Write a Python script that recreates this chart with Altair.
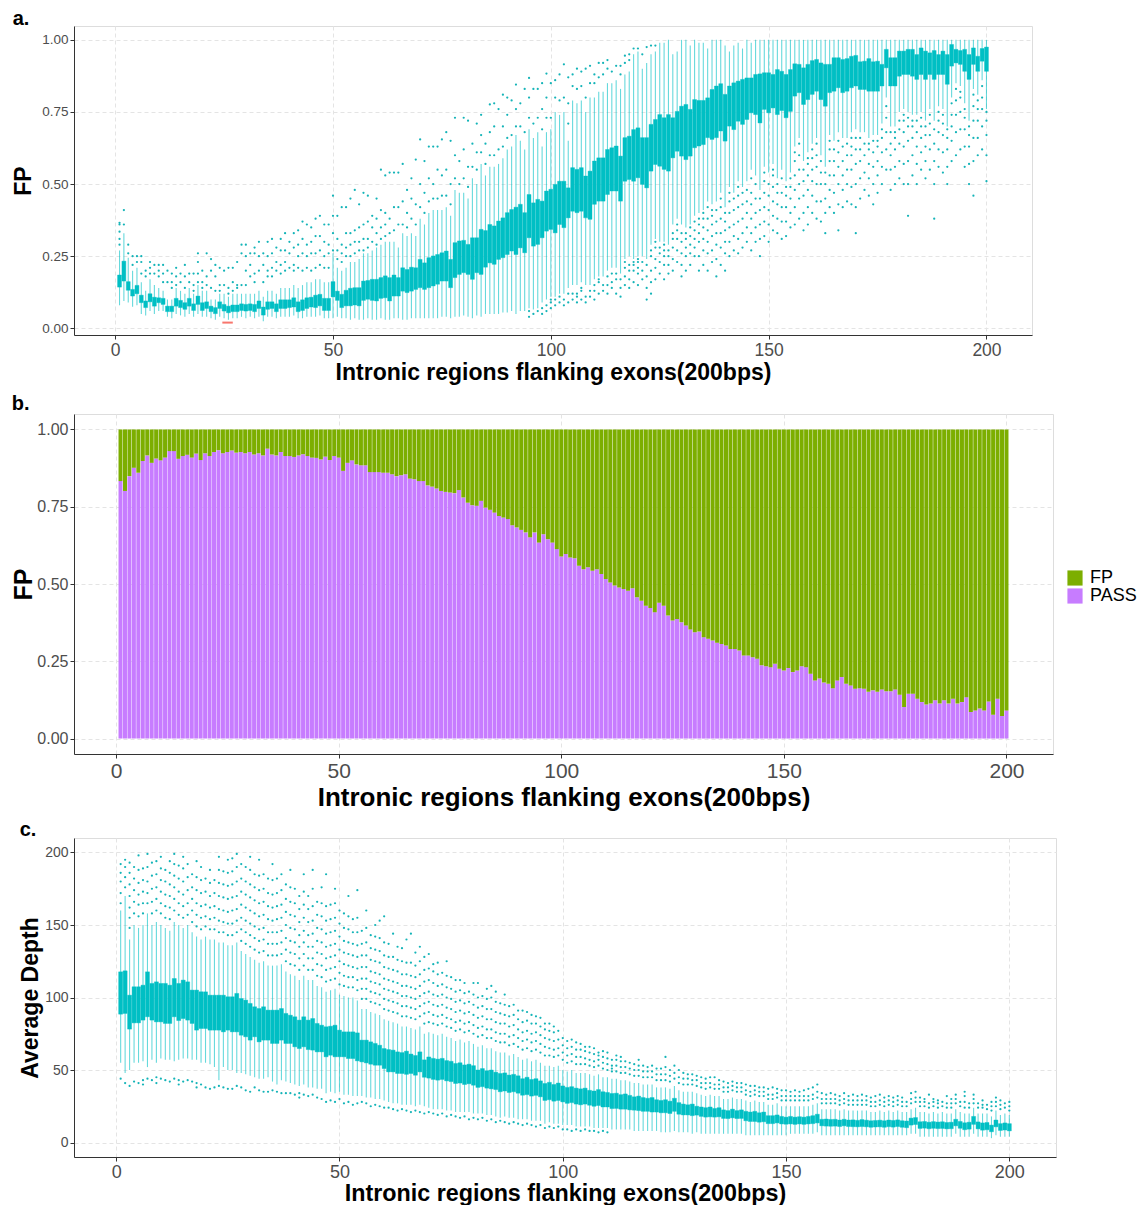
import altair as alt
import pandas as pd

FONT = "Liberation Sans"
TEAL = "#00BFC4"
GREEN = "#7CAE00"
PURPLE = "#C77CFF"
RED = "#F8766D"

POS = list(range(1, 201))
X_TICKS = [0, 50, 100, 150, 200]
X_TITLE = "Intronic regions flanking exons(200bps)"

# ---------------- panel a : FP fraction boxplots ----------------
A_Q3 = [
    0.185, 0.233, 0.162, 0.135, 0.149, 0.115, 0.095, 0.120, 0.108, 0.106,
    0.104, 0.077, 0.077, 0.104, 0.097, 0.089, 0.104, 0.085, 0.112, 0.089,
    0.092, 0.077, 0.072, 0.092, 0.083, 0.077, 0.081, 0.081, 0.085, 0.083,
    0.085, 0.083, 0.095, 0.074, 0.092, 0.092, 0.085, 0.099, 0.099, 0.099,
    0.106, 0.092, 0.099, 0.106, 0.108, 0.115, 0.118, 0.104, 0.104, 0.162,
    0.129, 0.118, 0.132, 0.139, 0.141, 0.141, 0.164, 0.166, 0.170, 0.170,
    0.176, 0.182, 0.176, 0.185, 0.176, 0.210, 0.204, 0.212, 0.210, 0.239,
    0.227, 0.245, 0.251, 0.256, 0.262, 0.268, 0.239, 0.297, 0.303, 0.305,
    0.291, 0.314, 0.314, 0.343, 0.339, 0.360, 0.355, 0.372, 0.383, 0.401,
    0.412, 0.420, 0.430, 0.401, 0.464, 0.435, 0.447, 0.441, 0.476, 0.482,
    0.499, 0.510, 0.510, 0.487, 0.557, 0.551, 0.557, 0.528, 0.545, 0.580,
    0.591, 0.591, 0.620, 0.626, 0.632, 0.597, 0.661, 0.666, 0.689, 0.695,
    0.661, 0.661, 0.707, 0.724, 0.741, 0.730, 0.741, 0.730, 0.752, 0.770,
    0.776, 0.759, 0.793, 0.790, 0.790, 0.799, 0.828, 0.840, 0.848, 0.811,
    0.840, 0.851, 0.857, 0.863, 0.868, 0.868, 0.880, 0.882, 0.886, 0.886,
    0.880, 0.897, 0.891, 0.880, 0.897, 0.917, 0.915, 0.903, 0.915, 0.928,
    0.932, 0.920, 0.915, 0.915, 0.938, 0.938, 0.932, 0.935, 0.943, 0.946,
    0.924, 0.926, 0.935, 0.924, 0.926, 0.915, 0.967, 0.938, 0.938, 0.961,
    0.961, 0.967, 0.967, 0.949, 0.972, 0.961, 0.955, 0.963, 0.949, 0.961,
    0.949, 0.984, 0.967, 0.963, 0.967, 0.949, 0.972, 0.943, 0.970, 0.975,
]
A_Q1 = [
    0.143, 0.164, 0.132, 0.112, 0.120, 0.089, 0.072, 0.092, 0.077, 0.089,
    0.083, 0.058, 0.058, 0.077, 0.072, 0.066, 0.077, 0.062, 0.083, 0.062,
    0.069, 0.058, 0.051, 0.069, 0.060, 0.054, 0.058, 0.058, 0.062, 0.060,
    0.062, 0.058, 0.069, 0.046, 0.066, 0.069, 0.058, 0.069, 0.069, 0.072,
    0.074, 0.058, 0.062, 0.069, 0.074, 0.072, 0.078, 0.062, 0.062, 0.109,
    0.097, 0.072, 0.078, 0.078, 0.081, 0.078, 0.097, 0.101, 0.097, 0.095,
    0.104, 0.106, 0.095, 0.112, 0.112, 0.129, 0.124, 0.129, 0.135, 0.141,
    0.135, 0.141, 0.147, 0.153, 0.164, 0.164, 0.141, 0.176, 0.187, 0.193,
    0.187, 0.170, 0.193, 0.187, 0.212, 0.227, 0.222, 0.239, 0.245, 0.256,
    0.268, 0.256, 0.279, 0.262, 0.314, 0.285, 0.291, 0.314, 0.337, 0.343,
    0.331, 0.360, 0.349, 0.383, 0.406, 0.401, 0.406, 0.383, 0.378, 0.430,
    0.441, 0.441, 0.464, 0.476, 0.476, 0.441, 0.510, 0.516, 0.510, 0.522,
    0.499, 0.487, 0.545, 0.568, 0.562, 0.551, 0.545, 0.591, 0.614, 0.597,
    0.585, 0.597, 0.626, 0.632, 0.637, 0.661, 0.655, 0.661, 0.684, 0.649,
    0.701, 0.689, 0.718, 0.707, 0.724, 0.747, 0.741, 0.712, 0.759, 0.747,
    0.764, 0.741, 0.755, 0.730, 0.752, 0.805, 0.817, 0.776, 0.793, 0.811,
    0.822, 0.793, 0.770, 0.817, 0.822, 0.834, 0.817, 0.822, 0.834, 0.840,
    0.828, 0.828, 0.822, 0.822, 0.822, 0.840, 0.903, 0.840, 0.840, 0.874,
    0.880, 0.880, 0.874, 0.863, 0.880, 0.863, 0.880, 0.863, 0.880, 0.880,
    0.846, 0.909, 0.920, 0.915, 0.891, 0.863, 0.915, 0.891, 0.926, 0.891,
]
A_HI = [
    0.27, 0.33, 0.245, 0.20, 0.21, 0.16, 0.13, 0.17, 0.15, 0.14,
    0.13, 0.10, 0.10, 0.14, 0.13, 0.12, 0.14, 0.12, 0.15, 0.13,
    0.13, 0.10, 0.10, 0.12, 0.12, 0.11, 0.12, 0.12, 0.12, 0.12,
    0.12, 0.12, 0.13, 0.11, 0.13, 0.13, 0.12, 0.14, 0.14, 0.14,
    0.15, 0.14, 0.15, 0.16, 0.16, 0.17, 0.17, 0.16, 0.16, 0.26,
    0.21, 0.20, 0.21, 0.23, 0.23, 0.24, 0.26, 0.26, 0.27, 0.28,
    0.29, 0.30, 0.30, 0.30, 0.28, 0.33, 0.32, 0.33, 0.32, 0.38,
    0.36, 0.40, 0.41, 0.41, 0.41, 0.42, 0.39, 0.48, 0.47, 0.47,
    0.45, 0.52, 0.50, 0.57, 0.53, 0.56, 0.56, 0.57, 0.59, 0.62,
    0.63, 0.67, 0.65, 0.62, 0.69, 0.66, 0.68, 0.63, 0.68, 0.69,
    0.75, 0.74, 0.75, 0.65, 0.79, 0.78, 0.79, 0.75, 0.80, 0.80,
    0.82, 0.82, 0.85, 0.85, 0.86, 0.83, 0.88, 0.89, 0.95, 0.96,
    0.90, 0.92, 0.95, 0.96, 0.99, 0.99, 1.00, 0.95, 0.96, 1.00,
    1.00, 0.98, 1.00, 0.99, 0.99, 0.97, 1.00, 1.00, 1.00, 0.98,
    0.96, 0.98, 0.99, 0.97, 1.00, 0.99, 1.00, 1.00, 1.00, 1.00,
    1.00, 1.00, 1.00, 1.00, 1.00, 1.00, 1.00, 1.00, 1.00, 1.00,
    1.00, 1.00, 1.00, 1.00, 1.00, 1.00, 1.00, 1.00, 1.00, 1.00,
    1.00, 1.00, 1.00, 1.00, 1.00, 1.00, 1.00, 1.00, 1.00, 1.00,
    1.00, 1.00, 1.00, 1.00, 1.00, 1.00, 1.00, 1.00, 1.00, 1.00,
    1.00, 1.00, 1.00, 1.00, 1.00, 1.00, 1.00, 1.00, 1.00, 1.00,
]
A_LO = [
    0.08, 0.095, 0.09, 0.075, 0.08, 0.05, 0.045, 0.06, 0.05, 0.06,
    0.06, 0.04, 0.035, 0.05, 0.045, 0.04, 0.05, 0.04, 0.05, 0.04,
    0.04, 0.035, 0.03, 0.04, 0.035, 0.03, 0.035, 0.035, 0.04, 0.035,
    0.04, 0.035, 0.04, 0.025, 0.04, 0.04, 0.035, 0.04, 0.04, 0.04,
    0.045, 0.035, 0.035, 0.04, 0.04, 0.04, 0.045, 0.035, 0.035, 0.035,
    0.04, 0.035, 0.035, 0.03, 0.035, 0.03, 0.03, 0.035, 0.03, 0.03,
    0.035, 0.03, 0.03, 0.035, 0.035, 0.03, 0.03, 0.035, 0.035, 0.035,
    0.035, 0.035, 0.035, 0.035, 0.04, 0.04, 0.035, 0.04, 0.04, 0.045,
    0.04, 0.035, 0.045, 0.04, 0.05, 0.05, 0.05, 0.05, 0.055, 0.055,
    0.06, 0.05, 0.06, 0.06, 0.07, 0.065, 0.07, 0.09, 0.10, 0.11,
    0.11, 0.12, 0.12, 0.14, 0.15, 0.15, 0.16, 0.15, 0.15, 0.17,
    0.18, 0.18, 0.20, 0.21, 0.21, 0.19, 0.24, 0.25, 0.24, 0.25,
    0.25, 0.24, 0.29, 0.31, 0.30, 0.30, 0.29, 0.36, 0.38, 0.36,
    0.35, 0.36, 0.39, 0.40, 0.41, 0.44, 0.43, 0.44, 0.47, 0.42,
    0.49, 0.47, 0.51, 0.49, 0.51, 0.55, 0.53, 0.48, 0.56, 0.54,
    0.57, 0.52, 0.55, 0.51, 0.54, 0.63, 0.66, 0.58, 0.61, 0.64,
    0.66, 0.60, 0.56, 0.67, 0.65, 0.68, 0.66, 0.66, 0.68, 0.69,
    0.68, 0.68, 0.66, 0.67, 0.67, 0.71, 0.80, 0.70, 0.70, 0.75,
    0.76, 0.75, 0.74, 0.74, 0.75, 0.72, 0.76, 0.72, 0.77, 0.76,
    0.70, 0.80, 0.85, 0.84, 0.78, 0.72, 0.83, 0.81, 0.86, 0.76,
]
A_OUT_HI = {
    1: [0.29, 0.31, 0.335, 0.36, 0.366], 2: [0.36, 0.41], 3: [0.26, 0.29], 4: [0.22, 0.25],
    5: [0.23, 0.25], 6: [0.19, 0.23, 0.25], 7: [0.18, 0.20], 8: [0.19, 0.21, 0.23],
    9: [0.19, 0.22], 10: [0.18, 0.20, 0.22], 11: [0.16, 0.19, 0.22], 12: [0.16, 0.20],
    13: [0.14, 0.16, 0.19], 14: [0.15, 0.18, 0.21], 15: [0.16, 0.19], 16: [0.14, 0.18, 0.22],
    17: [0.16, 0.19], 18: [0.13, 0.15, 0.19], 19: [0.16, 0.19, 0.23, 0.26], 20: [0.14, 0.16, 0.20],
    21: [0.15, 0.18, 0.26], 22: [0.14, 0.20, 0.24], 23: [0.13, 0.18, 0.22], 24: [0.13, 0.15, 0.21],
    25: [0.15, 0.20], 26: [0.12, 0.14, 0.21], 27: [0.13, 0.16, 0.21], 28: [0.14, 0.15, 0.23],
    29: [0.15, 0.26, 0.29], 30: [0.15, 0.20, 0.25, 0.29], 31: [0.18, 0.22, 0.26],
    32: [0.16, 0.19, 0.26, 0.28], 33: [0.20, 0.25, 0.30], 34: [0.16, 0.22, 0.26],
    35: [0.18, 0.20, 0.25, 0.30], 36: [0.18, 0.21, 0.26, 0.31], 37: [0.20, 0.23, 0.28],
    38: [0.19, 0.22, 0.27, 0.31], 39: [0.20, 0.23, 0.27, 0.33], 40: [0.21, 0.26, 0.30],
    41: [0.20, 0.22, 0.28, 0.33], 42: [0.21, 0.25, 0.29, 0.34], 43: [0.20, 0.26, 0.31, 0.37],
    44: [0.21, 0.25, 0.29, 0.36], 45: [0.20, 0.26, 0.30, 0.35], 46: [0.21, 0.26, 0.32, 0.38],
    47: [0.22, 0.27, 0.32, 0.39], 48: [0.21, 0.25, 0.30, 0.36], 49: [0.21, 0.26, 0.29, 0.36],
    50: [0.27, 0.33, 0.39, 0.46], 51: [0.24, 0.27, 0.31, 0.39], 52: [0.23, 0.26, 0.29, 0.42],
    53: [0.25, 0.28, 0.33, 0.42], 54: [0.25, 0.29, 0.33, 0.45], 55: [0.26, 0.30, 0.34, 0.48],
    56: [0.27, 0.30, 0.35, 0.43], 57: [0.27, 0.31, 0.36, 0.47], 58: [0.28, 0.31, 0.37, 0.46],
    59: [0.30, 0.35, 0.39], 60: [0.29, 0.33, 0.38, 0.45], 61: [0.31, 0.35, 0.41, 0.55],
    62: [0.32, 0.36, 0.40, 0.53], 63: [0.33, 0.38, 0.54], 64: [0.34, 0.42, 0.54],
    65: [0.36, 0.42, 0.54], 66: [0.36, 0.44, 0.57], 67: [0.35, 0.40, 0.48], 68: [0.38, 0.45, 0.52],
    69: [0.36, 0.43, 0.585], 70: [0.42, 0.50, 0.655], 71: [0.40, 0.47, 0.58], 72: [0.44, 0.52, 0.63],
    73: [0.45, 0.50, 0.63], 74: [0.45, 0.55, 0.63], 75: [0.46, 0.53, 0.655], 76: [0.46, 0.55, 0.68],
    77: [0.43, 0.50, 0.65], 78: [0.52, 0.60, 0.73], 79: [0.50, 0.58], 80: [0.52, 0.62, 0.73],
    81: [0.49, 0.56, 0.72], 82: [0.56, 0.64], 83: [0.55, 0.61, 0.71], 84: [0.61, 0.67, 0.74],
    85: [0.57, 0.64], 86: [0.60, 0.68, 0.776], 87: [0.60, 0.70, 0.78], 88: [0.62, 0.76],
    89: [0.63, 0.70, 0.81], 90: [0.66, 0.74, 0.80], 91: [0.67, 0.79], 92: [0.70, 0.76, 0.845],
    93: [0.70, 0.78], 94: [0.68, 0.83], 95: [0.73, 0.80, 0.868], 96: [0.71, 0.83],
    97: [0.73, 0.83], 98: [0.69, 0.76, 0.85], 99: [0.73, 0.80, 0.883], 100: [0.73, 0.85],
    101: [0.80, 0.86], 102: [0.79, 0.88], 103: [0.80, 0.915], 104: [0.71, 0.78, 0.87],
    105: [0.84, 0.88], 106: [0.83, 0.90], 107: [0.84, 0.89], 108: [0.80, 0.90],
    109: [0.85, 0.91], 110: [0.85, 0.88], 111: [0.87, 0.92], 112: [0.88, 0.92],
    113: [0.90, 0.93], 114: [0.89], 115: [0.91], 116: [0.88, 0.91], 117: [0.92, 0.945],
    118: [0.93, 0.95], 119: [0.97], 120: [0.97], 121: [0.95], 122: [0.975], 123: [0.98], 124: [0.98],
}
A_OUT_LO = {
    95: [0.04, 0.06], 96: [0.05], 97: [0.06], 98: [0.05, 0.07], 99: [0.06, 0.08],
    100: [0.07, 0.09, 0.10], 101: [0.08, 0.10], 102: [0.09, 0.11], 103: [0.08, 0.10],
    104: [0.09, 0.12], 105: [0.10, 0.12], 106: [0.09, 0.11, 0.12], 107: [0.10, 0.13, 0.14],
    108: [0.09, 0.11], 109: [0.11, 0.13], 110: [0.10, 0.13, 0.15], 111: [0.12, 0.16, 0.17],
    112: [0.13, 0.15], 113: [0.12, 0.15, 0.18], 114: [0.14, 0.16, 0.19], 115: [0.12, 0.17, 0.19],
    116: [0.11, 0.14, 0.17], 117: [0.15, 0.18, 0.21, 0.23], 118: [0.14, 0.17, 0.20, 0.22],
    119: [0.16, 0.20, 0.22, 0.23], 120: [0.15, 0.19, 0.21, 0.23, 0.24], 121: [0.17, 0.20, 0.23],
    122: [0.10, 0.14, 0.18, 0.22], 123: [0.12, 0.16, 0.20, 0.25, 0.27],
    124: [0.17, 0.21, 0.24, 0.28, 0.30], 125: [0.19, 0.23, 0.26, 0.28],
    126: [0.17, 0.22, 0.25, 0.27, 0.29], 127: [0.19, 0.22, 0.25, 0.27],
    128: [0.20, 0.24, 0.28, 0.31, 0.33], 129: [0.23, 0.27, 0.31, 0.34, 0.36],
    130: [0.18, 0.22, 0.26, 0.30, 0.33], 131: [0.20, 0.25, 0.28, 0.31, 0.33],
    132: [0.22, 0.26, 0.29, 0.32, 0.35], 133: [0.25, 0.28, 0.31, 0.34, 0.37],
    134: [0.20, 0.25, 0.30, 0.33, 0.36, 0.38], 135: [0.22, 0.27, 0.31, 0.35, 0.38, 0.40],
    136: [0.20, 0.26, 0.30, 0.34, 0.38, 0.42], 137: [0.23, 0.27, 0.32, 0.36, 0.39, 0.41],
    138: [0.18, 0.24, 0.29, 0.33, 0.37, 0.41], 139: [0.22, 0.28, 0.33, 0.38, 0.42, 0.45],
    140: [0.20, 0.26, 0.30, 0.34, 0.37, 0.40], 141: [0.25, 0.30, 0.35, 0.40, 0.44, 0.47],
    142: [0.27, 0.32, 0.36, 0.41, 0.45], 143: [0.26, 0.31, 0.37, 0.42, 0.46, 0.49],
    144: [0.28, 0.33, 0.38, 0.43, 0.47], 145: [0.30, 0.35, 0.40, 0.44, 0.48],
    146: [0.27, 0.33, 0.38, 0.43, 0.47, 0.52], 147: [0.30, 0.35, 0.40, 0.45, 0.50],
    148: [0.25, 0.31, 0.36, 0.41, 0.45], 149: [0.32, 0.37, 0.42, 0.47, 0.51, 0.54],
    150: [0.30, 0.36, 0.41, 0.46, 0.50], 151: [0.34, 0.39, 0.44, 0.49, 0.53, 0.55],
    152: [0.33, 0.38, 0.43, 0.47, 0.50], 153: [0.31, 0.37, 0.42, 0.47, 0.52],
    154: [0.32, 0.37, 0.42, 0.46, 0.49], 155: [0.35, 0.40, 0.45, 0.49, 0.52],
    156: [0.36, 0.42, 0.48, 0.53, 0.58, 0.61], 157: [0.38, 0.45, 0.50, 0.55, 0.60, 0.64],
    158: [0.34, 0.40, 0.46, 0.51, 0.55], 159: [0.36, 0.42, 0.48, 0.53, 0.57, 0.59],
    160: [0.40, 0.46, 0.51, 0.55, 0.59, 0.62], 161: [0.38, 0.44, 0.50, 0.56, 0.60, 0.64],
    162: [0.37, 0.44, 0.50, 0.54, 0.58], 163: [0.33, 0.40, 0.45, 0.50, 0.54],
    164: [0.42, 0.48, 0.53, 0.58, 0.62, 0.65], 165: [0.40, 0.47, 0.53, 0.58, 0.62],
    166: [0.34, 0.43, 0.50, 0.56, 0.61, 0.65], 167: [0.42, 0.48, 0.53, 0.58, 0.63],
    168: [0.44, 0.50, 0.55, 0.60, 0.64], 169: [0.43, 0.49, 0.55, 0.60, 0.63, 0.66],
    170: [0.33, 0.42, 0.50, 0.57, 0.62, 0.66], 171: [0.45, 0.52, 0.58, 0.62, 0.66],
    172: [0.48, 0.54, 0.60, 0.64], 173: [0.46, 0.52, 0.57, 0.62, 0.64],
    174: [0.43, 0.50, 0.56, 0.61, 0.65], 175: [0.47, 0.53, 0.58, 0.63, 0.65],
    176: [0.50, 0.56, 0.61, 0.66, 0.69], 177: [0.55, 0.62, 0.68, 0.73, 0.77],
    178: [0.48, 0.55, 0.60, 0.64, 0.68], 179: [0.50, 0.56, 0.62, 0.66, 0.68],
    180: [0.52, 0.58, 0.64, 0.69, 0.72], 181: [0.50, 0.57, 0.63, 0.68, 0.72, 0.74],
    182: [0.39, 0.50, 0.58, 0.65, 0.70, 0.73], 183: [0.53, 0.60, 0.66, 0.70, 0.72],
    184: [0.50, 0.57, 0.63, 0.68, 0.72], 185: [0.55, 0.61, 0.66, 0.70, 0.73],
    186: [0.52, 0.58, 0.63, 0.67, 0.70], 187: [0.55, 0.62, 0.67, 0.71, 0.74],
    188: [0.38, 0.50, 0.58, 0.64, 0.69], 189: [0.56, 0.62, 0.68, 0.72, 0.75],
    190: [0.54, 0.61, 0.67, 0.71, 0.74], 191: [0.50, 0.56, 0.62, 0.66, 0.69],
    192: [0.58, 0.65, 0.70, 0.74, 0.78], 193: [0.60, 0.68, 0.74, 0.79, 0.83],
    194: [0.62, 0.69, 0.75, 0.80, 0.82], 195: [0.56, 0.63, 0.69, 0.73, 0.76],
    196: [0.50, 0.57, 0.63, 0.67, 0.70], 197: [0.46, 0.58, 0.66, 0.72, 0.77, 0.81],
    198: [0.60, 0.66, 0.72, 0.76, 0.79], 199: [0.62, 0.70, 0.76, 0.80, 0.84],
    200: [0.51, 0.60, 0.67, 0.72, 0.75],
}
A_RED_X = [24.6, 27.0]
A_RED_Y = 0.02

# ---------------- panel b : PASS share per position ----------------
B_PASS = [
    0.833, 0.801, 0.849, 0.876, 0.860, 0.898, 0.916, 0.892, 0.906, 0.900,
    0.909, 0.930, 0.930, 0.905, 0.914, 0.918, 0.909, 0.922, 0.901, 0.923,
    0.914, 0.927, 0.933, 0.923, 0.927, 0.932, 0.925, 0.927, 0.923, 0.927,
    0.919, 0.923, 0.916, 0.938, 0.919, 0.916, 0.927, 0.914, 0.914, 0.911,
    0.916, 0.920, 0.914, 0.909, 0.908, 0.903, 0.912, 0.901, 0.914, 0.909,
    0.866, 0.892, 0.900, 0.887, 0.884, 0.884, 0.862, 0.862, 0.862, 0.860,
    0.860, 0.855, 0.849, 0.852, 0.855, 0.841, 0.839, 0.833, 0.833, 0.819,
    0.815, 0.809, 0.801, 0.798, 0.796, 0.794, 0.804, 0.780, 0.763, 0.755,
    0.753, 0.769, 0.747, 0.740, 0.731, 0.720, 0.715, 0.710, 0.690, 0.683,
    0.675, 0.667, 0.651, 0.667, 0.634, 0.661, 0.645, 0.634, 0.613, 0.589,
    0.597, 0.586, 0.583, 0.559, 0.548, 0.554, 0.543, 0.548, 0.532, 0.516,
    0.505, 0.495, 0.489, 0.484, 0.478, 0.486, 0.457, 0.446, 0.430, 0.422,
    0.409, 0.439, 0.430, 0.398, 0.382, 0.387, 0.376, 0.366, 0.353, 0.344,
    0.346, 0.328, 0.323, 0.317, 0.310, 0.306, 0.301, 0.290, 0.290, 0.285,
    0.269, 0.269, 0.263, 0.258, 0.237, 0.234, 0.231, 0.242, 0.226, 0.220,
    0.228, 0.215, 0.220, 0.234, 0.231, 0.210, 0.188, 0.194, 0.181, 0.177,
    0.163, 0.188, 0.199, 0.177, 0.172, 0.161, 0.163, 0.161, 0.151, 0.156,
    0.151, 0.159, 0.153, 0.153, 0.159, 0.142, 0.102, 0.145, 0.145, 0.129,
    0.118, 0.110, 0.113, 0.124, 0.113, 0.124, 0.113, 0.129, 0.113, 0.118,
    0.134, 0.086, 0.091, 0.097, 0.091, 0.120, 0.077, 0.129, 0.073, 0.091,
]
B_CATS = ["FP", "PASS"]

# ---------------- panel c : average depth boxplots ----------------
C_Q3 = [
    117.7, 118.4, 101.6, 107.4, 107.4, 108.5, 117.7, 109.7, 110.8, 109.7,
    109.7, 108.5, 113.1, 109.7, 112.0, 110.8, 105.1, 105.1, 103.9, 103.9,
    101.6, 101.6, 101.6, 101.6, 100.5, 100.5, 102.8, 99.3, 98.2, 95.9,
    93.6, 92.4, 93.6, 91.3, 91.3, 91.3, 92.4, 89.0, 87.8, 86.7,
    84.4, 86.7, 84.4, 85.5, 82.1, 80.9, 79.8, 80.2, 80.9, 77.5,
    76.3, 76.3, 76.3, 75.6, 70.6, 70.6, 69.4, 68.3, 67.1, 64.8,
    64.1, 63.7, 62.5, 62.0, 63.0, 61.0, 60.0, 62.5, 57.0, 59.0,
    58.0, 57.5, 58.0, 56.5, 56.0, 54.5, 55.0, 53.5, 54.0, 53.0,
    50.0, 51.0, 49.5, 50.0, 48.5, 47.6, 48.0, 46.5, 47.0, 46.0,
    44.0, 45.0, 43.5, 44.0, 42.5, 40.7, 41.5, 40.0, 41.0, 39.0,
    38.0, 38.5, 37.5, 37.0, 37.5, 36.0, 35.5, 36.5, 35.0, 34.5,
    33.8, 34.0, 33.0, 33.5, 32.5, 31.5, 32.0, 31.0, 30.5, 31.0,
    29.5, 29.0, 29.5, 28.5, 30.5, 27.5, 26.5, 26.0, 26.5, 25.0,
    24.5, 24.0, 24.5, 23.5, 24.0, 22.5, 22.0, 23.0, 22.0, 22.5,
    21.5, 21.0, 21.5, 20.5, 21.0, 18.5, 18.5, 19.0, 18.0, 17.5,
    18.0, 17.5, 17.8, 17.5, 18.0, 18.5, 19.5, 16.0, 16.2, 15.9,
    16.0, 15.5, 16.0, 15.5, 15.6, 15.3, 15.8, 15.4, 15.0, 15.2,
    15.4, 15.0, 15.5, 15.2, 15.6, 15.0, 14.8, 16.8, 17.2, 14.3,
    14.5, 14.0, 14.4, 14.1, 14.3, 13.8, 14.0, 16.0, 14.5, 13.6,
    14.0, 18.0, 14.2, 13.5, 13.8, 12.0, 15.5, 13.0, 13.5, 13.0,
]
C_Q1 = [
    88.5, 89.0, 78.2, 82.5, 82.5, 84.4, 86.7, 84.4, 83.2, 83.2,
    82.1, 82.1, 86.7, 84.1, 85.5, 84.4, 82.1, 77.5, 78.6, 78.6,
    77.5, 77.5, 77.5, 76.3, 77.5, 76.3, 76.3, 74.0, 72.9, 70.6,
    72.9, 69.4, 70.6, 70.6, 68.3, 68.3, 70.6, 68.3, 68.3, 66.0,
    64.8, 66.0, 64.1, 63.7, 62.5, 62.5, 59.1, 60.2, 59.1, 59.1,
    59.1, 57.9, 57.9, 56.3, 55.6, 54.9, 54.0, 53.3, 53.3, 51.0,
    48.7, 48.7, 47.6, 47.6, 47.0, 47.6, 46.4, 48.7, 45.0, 44.4,
    43.5, 43.0, 43.5, 42.5, 42.0, 40.7, 41.0, 40.0, 40.5, 39.5,
    38.0, 38.5, 37.5, 37.0, 36.5, 35.0, 35.5, 34.5, 35.0, 34.0,
    32.6, 33.0, 32.0, 32.5, 31.5, 29.0, 29.5, 28.5, 29.0, 28.0,
    27.0, 27.5, 26.5, 26.0, 26.5, 25.7, 25.0, 25.5, 24.5, 24.5,
    23.4, 23.5, 23.0, 23.0, 22.5, 22.3, 22.0, 21.5, 21.5, 21.0,
    21.0, 20.5, 20.5, 20.0, 21.5, 19.5, 19.0, 19.0, 18.5, 18.9,
    18.0, 17.5, 17.7, 17.5, 17.7, 16.6, 16.5, 17.0, 16.5, 16.6,
    15.0, 14.5, 14.5, 14.0, 14.3, 13.0, 13.0, 13.5, 12.8, 12.6,
    12.8, 12.5, 12.8, 12.5, 12.8, 13.0, 13.5, 11.5, 11.3, 11.2,
    11.3, 11.0, 11.5, 11.0, 10.9, 10.8, 11.0, 10.8, 10.5, 10.7,
    10.8, 10.5, 10.9, 10.6, 11.0, 10.5, 10.2, 12.0, 12.4, 9.7,
    9.9, 9.5, 9.8, 9.6, 9.7, 9.4, 9.5, 11.5, 9.8, 8.8,
    9.2, 12.5, 9.4, 8.5, 8.8, 7.4, 10.8, 8.3, 8.6, 8.0,
]
C_HI = [
    160, 170, 140, 150, 148, 150, 158, 150, 152, 150,
    148, 146, 152, 150, 148, 150, 145, 142, 140, 142,
    140, 140, 138, 138, 136, 136, 138, 132, 130, 128,
    126, 124, 125, 122, 122, 122, 123, 118, 116, 115,
    112, 115, 112, 112, 108, 107, 104, 105, 106, 102,
    101, 100, 100, 98, 92, 92, 90, 89, 88, 85,
    84, 83, 82, 80, 80, 79, 78, 80, 75, 76,
    75, 74, 75, 73, 72, 70, 71, 69, 70, 68,
    66, 67, 65, 65, 63, 62, 62, 60, 61, 59,
    57, 58, 56, 57, 55, 53, 53, 52, 53, 50,
    49, 50, 48, 48, 48, 47, 46, 47, 45, 45,
    44, 44, 43, 43, 42, 41, 41, 40, 40, 40,
    38, 38, 38, 37, 39, 36, 35, 35, 35, 34,
    33, 32, 33, 32, 32, 30, 30, 31, 30, 30,
    29, 28, 29, 28, 28, 26, 26, 27, 25, 25,
    25, 25, 25, 25, 25, 26, 27, 23, 23, 23,
    23, 22, 23, 22, 22, 22, 22, 22, 21, 21,
    22, 21, 22, 21, 22, 21, 21, 23, 24, 21,
    21, 20, 21, 20, 21, 20, 20, 23, 21, 20,
    20, 24, 20, 20, 20, 18, 22, 19, 20, 19,
]
C_LO = [
    55, 48, 50, 55, 55, 56, 52, 57, 55, 58,
    57, 57, 56, 57, 58, 58, 57, 57, 55, 55,
    54, 52, 43, 52, 50, 50, 48, 48, 47, 46,
    45, 44, 44, 45, 42, 40, 43, 42, 41, 40,
    39, 40, 38, 38, 37, 37, 34, 35, 34, 35,
    33, 33, 32, 32, 32, 31, 31, 30, 30, 29,
    28, 27, 27, 26, 26, 26, 25, 26, 25, 24,
    23, 23, 23, 22, 22, 21, 21, 21, 21, 20,
    20, 20, 19, 19, 18, 17, 18, 17, 17, 16,
    16, 16, 15, 15, 15, 13, 14, 13, 13, 12,
    12, 12, 11, 11, 11, 11, 10, 10, 10, 10,
    9, 9, 9, 9, 9, 8, 8, 8, 8, 8,
    8, 7, 7, 7, 8, 7, 7, 7, 6, 7,
    6, 6, 6, 6, 6, 6, 6, 6, 6, 6,
    5, 5, 5, 5, 5, 5, 5, 5, 5, 5,
    6, 6, 6, 6, 6, 6, 7, 5, 5, 5,
    5, 5, 5, 5, 5, 5, 5, 5, 5, 5,
    5, 5, 5, 5, 5, 5, 5, 6, 6, 4,
    4, 4, 4, 4, 4, 4, 4, 6, 4, 4,
    4, 6, 4, 4, 4, 3, 5, 4, 4, 4,
]
C_OUT_HI = [
    [165, 172, 180, 186, 192], [176, 183, 190, 195], [148, 155, 162, 170, 178, 186, 193],
    [158, 166, 174, 182, 190], [156, 164, 171, 179, 188, 198],
    [158, 165, 173, 181, 189], [165, 172, 180, 190, 199], [158, 166, 175, 184, 193],
    [160, 168, 176, 185, 194], [158, 165, 173, 181, 189, 197],
    [155, 163, 171, 180, 188], [154, 162, 170, 178, 186, 194], [160, 168, 176, 184, 192, 199],
    [157, 165, 173, 182, 191], [155, 163, 171, 180, 189, 197],
    [157, 165, 174, 183, 192], [152, 160, 168, 176, 185], [149, 157, 165, 174, 183, 194],
    [147, 155, 163, 172, 181, 190], [149, 156, 164, 173, 182],
    [147, 154, 162, 170, 179, 188], [147, 155, 163, 172, 181], [145, 153, 161, 170, 179, 188, 197],
    [145, 152, 160, 169, 178, 187], [143, 151, 159, 168, 177, 186, 195],
    [143, 151, 160, 169, 178, 187, 196], [145, 153, 161, 170, 180, 190, 199],
    [139, 147, 155, 164, 173, 182, 192], [137, 145, 153, 162, 171, 180, 190],
    [135, 143, 151, 160, 169, 178, 188, 197],
    [133, 141, 149, 158, 167, 176, 185], [131, 139, 147, 156, 165, 174, 184, 195],
    [132, 140, 148, 157, 166, 175, 185], [129, 137, 145, 154, 163, 172, 182],
    [129, 137, 145, 153, 162, 171, 181, 192],
    [129, 137, 145, 154, 163, 172, 182], [130, 138, 146, 155, 164, 174, 185],
    [125, 133, 141, 150, 159, 168, 178], [123, 131, 139, 148, 157, 166, 176, 188],
    [122, 130, 138, 147, 156, 165, 175],
    [119, 127, 135, 143, 152, 161, 170], [122, 130, 138, 146, 155, 164, 173, 185],
    [119, 127, 135, 143, 152, 161, 170], [119, 127, 135, 144, 153, 163, 175, 188],
    [115, 123, 131, 139, 148, 157, 166],
    [114, 122, 130, 138, 147, 156, 165, 176], [111, 119, 127, 135, 144, 153, 163, 185],
    [112, 120, 128, 136, 145, 154, 164], [113, 121, 129, 137, 146, 155, 165, 175],
    [109, 117, 125, 133, 142, 151, 160],
    [108, 115, 123, 131, 139, 148, 158], [107, 114, 122, 130, 138, 147, 156, 170],
    [107, 114, 121, 129, 137, 145, 154], [105, 112, 120, 128, 136, 145, 155, 174],
    [99, 106, 113, 121, 129, 137, 146],
    [99, 106, 113, 121, 129, 138, 148, 160], [97, 104, 111, 118, 126, 134, 143],
    [96, 103, 110, 117, 125, 133, 142, 150], [95, 102, 109, 116, 124, 132, 141, 153],
    [92, 99, 106, 113, 121, 129, 138, 156],
    [91, 98, 105, 112, 120, 128, 137], [90, 97, 104, 111, 119, 128, 144],
    [89, 96, 103, 110, 118, 126, 135], [87, 94, 101, 108, 116, 125, 134],
    [87, 94, 101, 108, 116, 124, 140],
    [86, 93, 100, 107, 115, 124, 144], [85, 92, 99, 106, 114, 122, 131],
    [87, 94, 101, 108, 116, 125, 135], [82, 89, 96, 103, 111, 119, 128],
    [83, 90, 97, 104, 112, 120, 130],
    [82, 88, 95, 102, 110, 118, 123], [81, 87, 94, 101, 108, 116, 124],
    [82, 88, 95, 102, 109, 117], [80, 86, 93, 100, 107, 115, 125], [79, 85, 92, 99, 106, 114],
    [77, 83, 90, 97, 104, 112], [78, 84, 91, 98, 105, 112], [76, 82, 89, 96, 103, 110],
    [77, 83, 90, 97, 104], [75, 81, 88, 95, 102, 110],
    [73, 79, 86, 93, 100, 110], [74, 80, 87, 94, 101], [72, 78, 85, 92, 99, 106],
    [72, 78, 85, 92, 100, 108], [70, 76, 83, 90, 97, 104],
    [69, 75, 82, 89, 96], [69, 75, 82, 88, 95, 102], [67, 73, 80, 87, 94],
    [68, 74, 81, 88, 95], [66, 72, 78, 85, 91],
    [64, 70, 76, 83, 91], [65, 71, 77, 84, 90], [63, 69, 75, 82, 88],
    [64, 70, 76, 82, 87], [62, 68, 74, 80, 86],
    [60, 66, 72, 78, 82], [60, 65, 71, 77, 82], [59, 64, 70, 76, 80],
    [60, 65, 71, 77], [57, 62, 67, 72],
    [55, 60, 65, 70], [56, 61, 66, 71], [54, 59, 64, 69], [54, 59, 64, 68], [54, 58, 63, 66],
    [53, 57, 62, 66], [52, 56, 61, 65], [53, 57, 60, 62], [51, 55, 59, 63], [50, 54, 58, 62],
    [49, 51, 53, 57], [49, 53, 57, 60], [48, 52, 56, 59], [48, 52, 56], [47, 51, 55],
    [46, 50, 54], [46, 50, 53, 57], [45, 49, 53], [45, 49, 52], [45, 49, 53],
    [43, 47, 51], [43, 47, 51], [43, 47, 52, 59], [42, 46, 50], [44, 48, 53],
    [41, 45, 50], [40, 44, 48], [40, 44, 47], [40, 43, 47], [39, 43, 46],
    [38, 41, 45], [37, 41, 44], [38, 41, 45], [37, 40, 45], [37, 40, 43],
    [35, 38, 42], [35, 38, 41], [36, 39, 42], [35, 38, 41], [35, 38, 41],
    [33, 36, 40], [32, 35, 39], [33, 36, 39], [32, 35, 38], [32, 35, 38],
    [30, 33, 37], [30, 33, 38], [31, 34, 37], [29, 32, 36], [29, 32, 36],
    [29, 32, 35], [29, 32, 36], [29, 32, 35], [29, 32, 36], [29, 32, 37],
    [30, 33, 38], [31, 35, 40], [27, 30, 34], [27, 30, 33], [27, 30, 34],
    [27, 30, 33], [26, 29, 32], [27, 30, 34], [26, 29, 32], [26, 29, 33],
    [26, 29, 32], [26, 29, 33], [26, 29, 32], [25, 28, 31], [25, 28, 32],
    [26, 29, 33], [25, 28, 31], [26, 29, 32], [25, 28, 31], [26, 29, 32],
    [25, 28, 31], [25, 28], [27, 30, 34], [28, 31, 35], [25, 28, 31],
    [25, 28, 30], [24, 27, 33], [25, 28, 30], [24, 27, 29], [25, 28],
    [24, 27, 32], [24, 27, 30], [27, 30, 33], [25, 28], [24, 28, 32, 35],
    [24, 27], [27, 30, 33], [24, 27], [24, 26, 29], [23, 26],
    [22, 25, 28], [25, 28, 31], [23, 26, 29], [24, 27], [22, 25, 28],
]
C_OUT_LO = [
    44, 41, 39, 42, 41, 43, 44, 43, 45, 44,
    43, 42, 44, 43, 42, 43, 42, 41, 40, 38,
    37, 38, 39, 38, 37, 37, 39, 38, 36, 35,
    38, 36, 35, 35, 36, 35, 34, 34, 34, 33,
    34, 33, 32, 33, 31, 30, 28, 29, 28, 30,
    27, 28, 26, 27, 28, 27, 25, 26, 25, 24,
    24, 23, 22, 23, 22, 21, 22, 21, 20, 21,
    20, 19, 20, 18, 19, 18, 17, 18, 16, 17,
    16, 17, 15, 16, 14, 15, 14, 13, 14, 13,
    12, 13, 12, 11, 12, 10, 11, 10, 11, 9,
    9, 8, 9, 8, 9, 8, 8, 7, 8, 7,
]
C_OUT_LO_EXTRA = {6: [40], 9: [41], 14: [40], 18: [38], 41: [31]}

XDOM = [-9.45, 210.45]


def axis_x(label_size, title_size, title_pad=3):
    return alt.Axis(values=X_TICKS, title=X_TITLE, labelFontSize=label_size,
                    titleFontSize=title_size, titleFontWeight="bold", titleColor="black",
                    labelColor="#4D4D4D", labelFont=FONT, titleFont=FONT,
                    domainColor="#333333", tickColor="#333333", tickSize=4,
                    labelPadding=2, titlePadding=title_pad, grid=True, gridColor="#E4E4E4",
                    gridDash=[4, 3], gridWidth=1)


def axis_y(values, fmt, title, label_size, title_size, title_pad):
    return alt.Axis(values=values, format=fmt, title=title, labelFontSize=label_size,
                    titleFontSize=title_size, titleFontWeight="bold", titleColor="black",
                    labelColor="#4D4D4D", labelFont=FONT, titleFont=FONT,
                    domainColor="#333333", tickColor="#333333", tickSize=4,
                    labelPadding=2, titlePadding=title_pad, grid=True, gridColor="#E4E4E4",
                    gridDash=[4, 3], gridWidth=1)


def panel_title(txt, offset=0):
    return alt.TitleParams(txt, anchor="start", frame="bounds", fontSize=20,
                           fontWeight="bold", font=FONT, color="black", offset=offset)


def box_panel(q1, q3, lo, hi, out_x, out_y, ydom, ax_x, ax_y, w, h, title, extra=None):
    df = pd.DataFrame({"pos": POS, "q1": q1, "q3": q3, "lo": lo, "hi": hi})
    df["x0"] = df["pos"] - 0.45
    df["x1"] = df["pos"] + 0.45
    dfo = pd.DataFrame({"pos": out_x, "v": out_y})
    xs = alt.Scale(domain=XDOM, nice=False, zero=False)
    ys = alt.Scale(domain=ydom, nice=False, zero=False)
    whisk = alt.Chart(df).mark_rule(color=TEAL, strokeWidth=1.1, opacity=0.6).encode(
        x=alt.X("pos:Q", scale=xs, axis=ax_x),
        y=alt.Y("lo:Q", scale=ys, axis=ax_y), y2="hi:Q")
    boxes = alt.Chart(df).mark_bar(color=TEAL, stroke=TEAL, strokeWidth=0.4).encode(
        x=alt.X("x0:Q", scale=xs, axis=ax_x), x2="x1:Q",
        y=alt.Y("q1:Q", scale=ys, axis=ax_y), y2="q3:Q")
    pts = alt.Chart(dfo).mark_circle(color="#14B4B8", size=5, opacity=1).encode(
        x=alt.X("pos:Q", scale=xs, axis=ax_x),
        y=alt.Y("v:Q", scale=ys, axis=ax_y))
    layers = [whisk, boxes, pts]
    if extra is not None:
        layers.append(extra(xs, ys, ax_x, ax_y))
    return alt.layer(*layers).properties(width=w, height=h, title=title)


# ---- panel a
a_ox, a_oy = [], []
for d in (A_OUT_HI, A_OUT_LO):
    for p, vals in d.items():
        for v in vals:
            a_ox.append(p)
            a_oy.append(v)


def red_seg(xs, ys, ax_x, ax_y):
    rd = pd.DataFrame({"x0": [A_RED_X[0]], "x1": [A_RED_X[1]], "y": [A_RED_Y]})
    return alt.Chart(rd).mark_rule(color=RED, strokeWidth=2).encode(
        x=alt.X("x0:Q", scale=xs, axis=ax_x), x2="x1:Q",
        y=alt.Y("y:Q", scale=ys, axis=ax_y))


panel_a = box_panel(
    A_Q1, A_Q3, A_LO, A_HI, a_ox, a_oy, [-0.023, 1.048],
    axis_x(17.5, 23), axis_y([0, 0.25, 0.5, 0.75, 1.0], ".2f", "FP", 13.5, 23, 6),
    958, 309, panel_title("a.", offset=-3), extra=red_seg)

# ---- panel b
rows = []
for p, v in zip(POS, B_PASS):
    rows.append({"pos": p, "cat": "PASS", "y0": 0.0, "y1": v})
    rows.append({"pos": p, "cat": "FP", "y0": v, "y1": 1.0})
dfb = pd.DataFrame(rows)
dfb["x0"] = dfb["pos"] - 0.45
dfb["x1"] = dfb["pos"] + 0.45
panel_b = alt.Chart(dfb).mark_bar(strokeWidth=0).encode(
    x=alt.X("x0:Q", scale=alt.Scale(domain=XDOM, nice=False, zero=False), axis=axis_x(21, 26)),
    x2="x1:Q",
    y=alt.Y("y0:Q", scale=alt.Scale(domain=[-0.05, 1.05], nice=False, zero=False),
            axis=axis_y([0, 0.25, 0.5, 0.75, 1.0], ".2f", "FP", 16, 25, 0)),
    y2="y1:Q",
    color=alt.Color("cat:N", scale=alt.Scale(domain=B_CATS, range=[GREEN, PURPLE]),
                    legend=alt.Legend(title=None, orient="none", legendX=992, legendY=543,
                                      symbolType="square", symbolSize=230, symbolStrokeWidth=0,
                                      symbolOpacity=1, labelFontSize=18, labelFont=FONT,
                                      labelColor="black", rowPadding=0, labelOffset=6)),
).properties(width=979, height=340, title=panel_title("b."))

# ---- panel c
c_ox, c_oy = [], []
for p, vals in zip(POS, C_OUT_HI):
    for v in vals:
        c_ox.append(p)
        c_oy.append(v)
for p, v in zip(POS, C_OUT_LO):
    c_ox.append(p)
    c_oy.append(v)
for p, vals in C_OUT_LO_EXTRA.items():
    for v in vals:
        c_ox.append(p)
        c_oy.append(v)

panel_c = box_panel(
    C_Q1, C_Q3, C_LO, C_HI, c_ox, c_oy, [-10, 210],
    axis_x(18, 23.3, 1), axis_y([0, 50, 100, 150, 200], "d", "Average Depth", 14, 23, 2),
    982, 319, panel_title("c.", offset=-2))

chart = alt.vconcat(panel_a, panel_b, panel_c, spacing=8).configure_view(
    stroke=None).configure(font=FONT).properties(
    padding={"left": 3, "top": 0, "right": 0, "bottom": 0})

chart.save("out.html", embed_options={"renderer": "svg", "actions": False})
